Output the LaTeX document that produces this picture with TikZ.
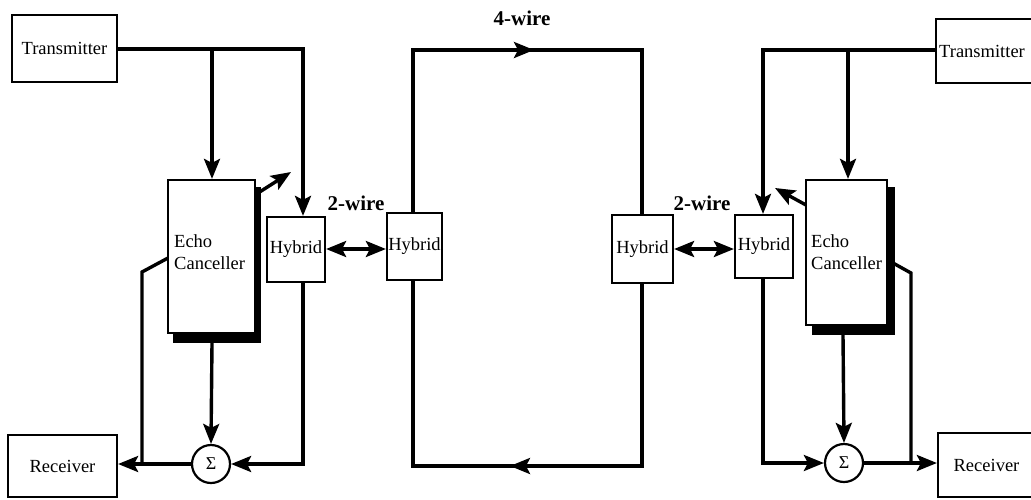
\documentclass[tikz,border=0pt]{standalone}
\usepackage{fontspec}
\setmainfont{Liberation Serif}
\usetikzlibrary{arrows.meta}
\begin{document}
\begin{tikzpicture}[x=1pt,y=-1pt,
  box/.style={draw,line width=2.2pt,fill=white,inner sep=0pt,font=\fontsize{18.5}{20}\selectfont},
  txt/.style={inner sep=0pt,font=\fontsize{18.5}{22}\selectfont,align=left},
  wire/.style={line width=3.4pt,line join=miter},
  bigtip/.tip={Stealth[length=20pt,width=16pt,inset=4pt]},
  arr/.style={wire,-bigtip},
  darr/.style={wire,bigtip-bigtip},
  blab/.style={inner sep=0pt,font=\fontsize{21}{23}\selectfont\bfseries},
  sum/.style={circle,draw,line width=2.2pt,fill=white,minimum size=38pt,inner sep=0pt,font=\fontsize{18}{18}\selectfont}
]
\useasboundingbox (0,0) rectangle (1031,499);
% ---------- left side ----------
\node[box,minimum width=105pt,minimum height=67pt] (txL) at (64.5,48.5) {Transmitter};
\node[box,minimum width=109pt,minimum height=62pt] (rxL) at (62.5,466) {Receiver};
\fill (173,187) rectangle (261,343);
\node[box,minimum width=87pt,minimum height=153pt] (ecL) at (211.5,256.5) {};
\node[txt,anchor=west] (ecLt) at (174,252) {Echo\\Canceller};
\node[box,minimum width=58pt,minimum height=65pt] (hyL) at (296,249.5) {Hybrid};
\node[sum] (sumL) at (211,464) {Σ};
% ---------- centre ----------
\node[box,minimum width=55pt,minimum height=67pt] (hyCL) at (414.5,246.5) {Hybrid};
\node[box,minimum width=61pt,minimum height=68pt] (hyCR) at (642.5,249) {Hybrid};
% ---------- right side ----------
\node[box,minimum width=99pt,minimum height=64pt] (txR) at (985.5,51) {};
\node[txt,anchor=west] (txRt) at (939,51) {Transmitter};
\node[box,minimum width=97pt,minimum height=64pt] (rxR) at (986.5,465) {Receiver};
\fill (812,187) rectangle (895,335);
\node[box,minimum width=81pt,minimum height=145pt] (ecR) at (846.5,252.5) {};
\node[txt,anchor=west] (ecRt) at (811,252) {Echo\\Canceller};
\node[box,minimum width=58pt,minimum height=63pt] (hyR) at (764,246.5) {Hybrid};
\node[sum] (sumR) at (844,463) {Σ};
% ---------- labels ----------
\node[blab] (l4) at (522,18) {4-wire};
\node[blab] (l2L) at (356,203) {2-wire};
\node[blab] (l2R) at (702,203) {2-wire};
% ---------- coordinates ----------
\coordinate (cL1) at (303,49);
\coordinate (bL) at (212,49);
\coordinate (dL1) at (258,193);
\coordinate (dL2) at (291,172);
\coordinate (eL1) at (168,258);
\coordinate (eL2) at (142,272);
\coordinate (eL3) at (142,464);
\coordinate (hLb) at (303,464);
\coordinate (topL) at (413,50);
\coordinate (topM) at (534,50);
\coordinate (topR) at (642,50);
\coordinate (botR) at (642,466);
\coordinate (botM) at (510,466);
\coordinate (botL) at (413,466);
\coordinate (cR1) at (763,50);
\coordinate (bR) at (848,50);
\coordinate (dR1) at (806,205);
\coordinate (dR2) at (775,188);
\coordinate (eR1) at (893,263);
\coordinate (eR2) at (911,273);
\coordinate (eR3) at (911,463);
\coordinate (hRb) at (763,463);
% ---------- left connectors ----------
\draw[arr] (txL.east |- cL1) -- (cL1) -- ([xshift=7pt]hyL.north);
\draw[arr] (bL) -- (bL |- ecL.north);
\draw[arr] (dL1) -- (dL2);
\draw[wire] (eL1) -- (eL2) -- (eL3);
\draw[arr] (212,343) -- (sumL.north);
\draw[arr] ([xshift=7pt]hyL.south) -- (hLb) -- (sumL.east);
\draw[arr] (sumL.west) -- (rxL.east |- sumL.west);
\draw[darr] (hyL.east |- 0,249) -- (hyCL.west |- 0,249);
% ---------- 4-wire loop ----------
\draw[wire] (hyCL.north -| topL) -- (topL) -- (topR) -- (hyCR.north -| topR);
\draw[arr] (topL) -- (topM);
\draw[wire] (hyCR.south -| botR) -- (botR) -- (botL) -- (hyCL.south -| botL);
\draw[arr] (botR) -- (botM);
% ---------- right connectors ----------
\draw[darr] (hyCR.east |- 0,249) -- (hyR.west |- 0,249);
\draw[arr] (txR.west |- cR1) -- (cR1) -- (hyR.north -| cR1);
\draw[arr] (bR) -- (bR |- ecR.north);
\draw[arr] (dR1) -- (dR2);
\draw[wire] (eR1) -- (eR2) -- (eR3);
\draw[arr] (843,335) -- (sumR.north);
\draw[arr] (hyR.south -| hRb) -- (hRb) -- (sumR.west);
\draw[arr] (sumR.east) -- (rxR.west |- sumR.east);
\end{tikzpicture}
\end{document}
